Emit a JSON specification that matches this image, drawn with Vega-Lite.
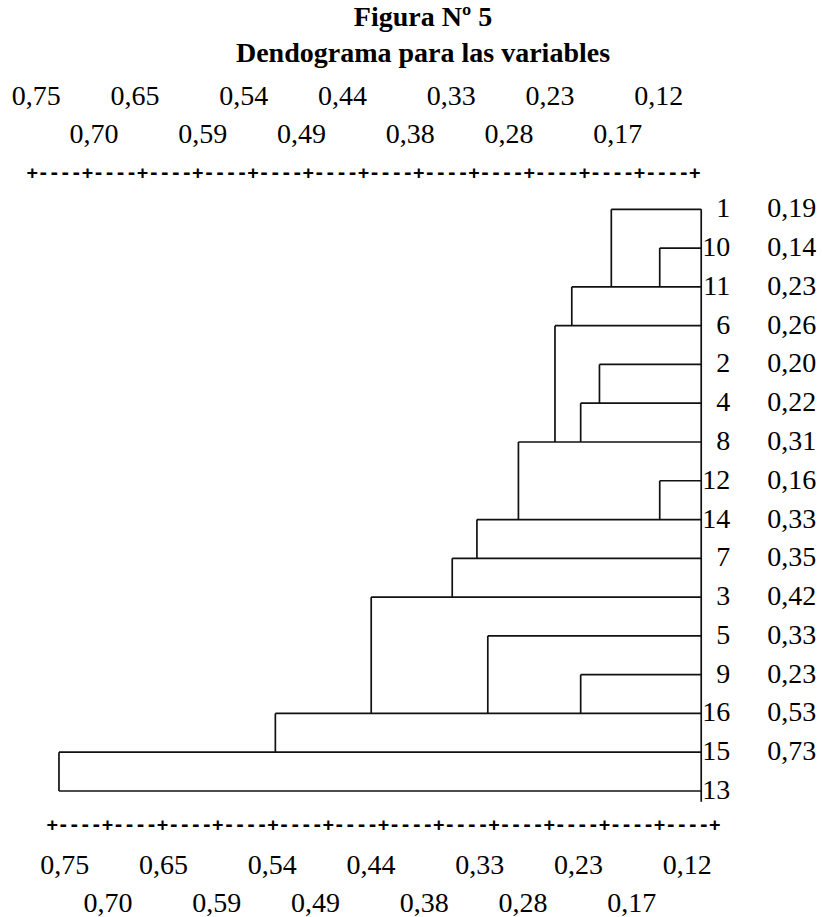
{
  "$schema": "https://vega.github.io/schema/vega-lite/v6.json",
  "width": 822,
  "height": 847,
  "autosize": {"type": "none"},
  "padding": {"left": 0, "top": 70, "right": 0, "bottom": 0},
  "background": "white",
  "title": {
    "text": "Figura Nº 5",
    "subtitle": "Dendograma para las variables",
    "font": "Liberation Serif",
    "fontSize": 28,
    "fontWeight": "bold",
    "color": "black",
    "subtitleFont": "Liberation Serif",
    "subtitleFontSize": 28,
    "subtitleFontWeight": "bold",
    "subtitleColor": "black",
    "subtitlePadding": 8,
    "anchor": "middle",
    "offset": 2,
    "dx": 12
  },
  "config": {"view": {"stroke": null}},
  "datasets": {
    "leaves": [
      {"leaf": "1", "order": 0, "join": 0.172, "coef": "0,19"},
      {"leaf": "10", "order": 1, "join": 0.123, "coef": "0,14"},
      {"leaf": "11", "order": 2, "join": 0.212, "coef": "0,23"},
      {"leaf": "6", "order": 3, "join": 0.229, "coef": "0,26"},
      {"leaf": "2", "order": 4, "join": 0.184, "coef": "0,20"},
      {"leaf": "4", "order": 5, "join": 0.203, "coef": "0,22"},
      {"leaf": "8", "order": 6, "join": 0.266, "coef": "0,31"},
      {"leaf": "12", "order": 7, "join": 0.123, "coef": "0,16"},
      {"leaf": "14", "order": 8, "join": 0.308, "coef": "0,33"},
      {"leaf": "7", "order": 9, "join": 0.333, "coef": "0,35"},
      {"leaf": "3", "order": 10, "join": 0.415, "coef": "0,42"},
      {"leaf": "5", "order": 11, "join": 0.297, "coef": "0,33"},
      {"leaf": "9", "order": 12, "join": 0.203, "coef": "0,23"},
      {"leaf": "16", "order": 13, "join": 0.512, "coef": "0,53"},
      {"leaf": "15", "order": 14, "join": 0.731, "coef": "0,73"},
      {"leaf": "13", "order": 15, "join": 0.731, "coef": ""}
    ],
    "merges": [
      {"d": 0.123, "top": 1, "bottom": 2},
      {"d": 0.172, "top": 0, "bottom": 2},
      {"d": 0.212, "top": 2, "bottom": 3},
      {"d": 0.184, "top": 4, "bottom": 5},
      {"d": 0.203, "top": 5, "bottom": 6},
      {"d": 0.229, "top": 3, "bottom": 6},
      {"d": 0.266, "top": 6, "bottom": 8},
      {"d": 0.123, "top": 7, "bottom": 8},
      {"d": 0.308, "top": 8, "bottom": 9},
      {"d": 0.333, "top": 9, "bottom": 10},
      {"d": 0.203, "top": 12, "bottom": 13},
      {"d": 0.297, "top": 11, "bottom": 13},
      {"d": 0.415, "top": 10, "bottom": 13},
      {"d": 0.512, "top": 13, "bottom": 14},
      {"d": 0.731, "top": 14, "bottom": 15}
    ],
    "ticks": [
      {"d": 0.75, "label": "0,75", "tier": 1},
      {"d": 0.70, "label": "0,70", "tier": 2},
      {"d": 0.65, "label": "0,65", "tier": 1},
      {"d": 0.59, "label": "0,59", "tier": 2},
      {"d": 0.54, "label": "0,54", "tier": 1},
      {"d": 0.49, "label": "0,49", "tier": 2},
      {"d": 0.44, "label": "0,44", "tier": 1},
      {"d": 0.38, "label": "0,38", "tier": 2},
      {"d": 0.33, "label": "0,33", "tier": 1},
      {"d": 0.28, "label": "0,28", "tier": 2},
      {"d": 0.23, "label": "0,23", "tier": 1},
      {"d": 0.17, "label": "0,17", "tier": 2},
      {"d": 0.12, "label": "0,12", "tier": 1}
    ],
    "ruler": [
      {"d": 0.75, "text": "+----+----+----+----+----+----+----+----+----+----+----+----+"}
    ]
  },
  "layer": [
    {
      "data": {"name": "leaves"},
      "mark": {"type": "rule", "color": "#111111", "strokeWidth": 1.7},
      "encoding": {
        "x": {"field": "join", "type": "quantitative", "axis": null,
              "scale": {"domain": [-0.04123, 0.79067], "reverse": true, "nice": false, "zero": false}},
        "x2": {"datum": 0.081},
        "y": {"field": "order", "type": "quantitative", "axis": null,
              "scale": {"domain": [-3.592, 18.249], "reverse": true, "nice": false, "zero": false}}
      }
    },
    {
      "data": {"name": "merges"},
      "mark": {"type": "rule", "color": "#111111", "strokeWidth": 1.7},
      "encoding": {
        "x": {"field": "d", "type": "quantitative"},
        "y": {"field": "top", "type": "quantitative"},
        "y2": {"field": "bottom"}
      }
    },
    {
      "data": {"name": "ruler"},
      "mark": {"type": "rule", "color": "#111111", "strokeWidth": 1.7},
      "encoding": {
        "x": {"datum": 0.081, "type": "quantitative"},
        "y": {"datum": 0, "type": "quantitative"},
        "y2": {"datum": 15.28}
      }
    },
    {
      "data": {"name": "leaves"},
      "mark": {"type": "text", "font": "Liberation Serif", "fontSize": 28, "align": "right", "baseline": "middle", "dx": 29, "color": "black"},
      "encoding": {
        "x": {"datum": 0.081, "type": "quantitative"},
        "y": {"field": "order", "type": "quantitative"},
        "text": {"field": "leaf"}
      }
    },
    {
      "data": {"name": "leaves"},
      "mark": {"type": "text", "font": "Liberation Serif", "fontSize": 28, "align": "left", "baseline": "middle", "dx": 66, "color": "black"},
      "encoding": {
        "x": {"datum": 0.081, "type": "quantitative"},
        "y": {"field": "order", "type": "quantitative"},
        "text": {"field": "coef"}
      }
    },
    {
      "data": {"name": "ticks"},
      "transform": [{"filter": "datum.tier == 1"}],
      "mark": {"type": "text", "font": "Liberation Serif", "fontSize": 28, "align": "center", "baseline": "middle", "dx": -4, "color": "black"},
      "encoding": {
        "x": {"field": "d", "type": "quantitative"},
        "y": {"datum": -2.883, "type": "quantitative"},
        "text": {"field": "label"}
      }
    },
    {
      "data": {"name": "ticks"},
      "transform": [{"filter": "datum.tier == 2"}],
      "mark": {"type": "text", "font": "Liberation Serif", "fontSize": 28, "align": "center", "baseline": "middle", "dx": 4.5, "color": "black"},
      "encoding": {
        "x": {"field": "d", "type": "quantitative"},
        "y": {"datum": -1.903, "type": "quantitative"},
        "text": {"field": "label"}
      }
    },
    {
      "data": {"name": "ruler"},
      "mark": {"type": "text", "font": "DejaVu Sans Mono", "fontWeight": "bold", "fontSize": 18.35, "align": "left", "baseline": "middle", "dx": -13.5, "color": "black"},
      "encoding": {
        "x": {"field": "d", "type": "quantitative"},
        "y": {"datum": -0.936, "type": "quantitative"},
        "text": {"field": "text"}
      }
    },
    {
      "data": {"name": "ruler"},
      "mark": {"type": "text", "font": "DejaVu Sans Mono", "fontWeight": "bold", "fontSize": 18.35, "align": "left", "baseline": "middle", "dx": 6.5, "color": "black"},
      "encoding": {
        "x": {"field": "d", "type": "quantitative"},
        "y": {"datum": 15.877, "type": "quantitative"},
        "text": {"field": "text"}
      }
    },
    {
      "data": {"name": "ticks"},
      "transform": [{"filter": "datum.tier == 1"}],
      "mark": {"type": "text", "font": "Liberation Serif", "fontSize": 28, "align": "center", "baseline": "middle", "dx": 24.5, "color": "black"},
      "encoding": {
        "x": {"field": "d", "type": "quantitative"},
        "y": {"datum": 16.934, "type": "quantitative"},
        "text": {"field": "label"}
      }
    },
    {
      "data": {"name": "ticks"},
      "transform": [{"filter": "datum.tier == 2"}],
      "mark": {"type": "text", "font": "Liberation Serif", "fontSize": 28, "align": "center", "baseline": "middle", "dx": 18.5, "color": "black"},
      "encoding": {
        "x": {"field": "d", "type": "quantitative"},
        "y": {"datum": 17.914, "type": "quantitative"},
        "text": {"field": "label"}
      }
    }
  ]
}
